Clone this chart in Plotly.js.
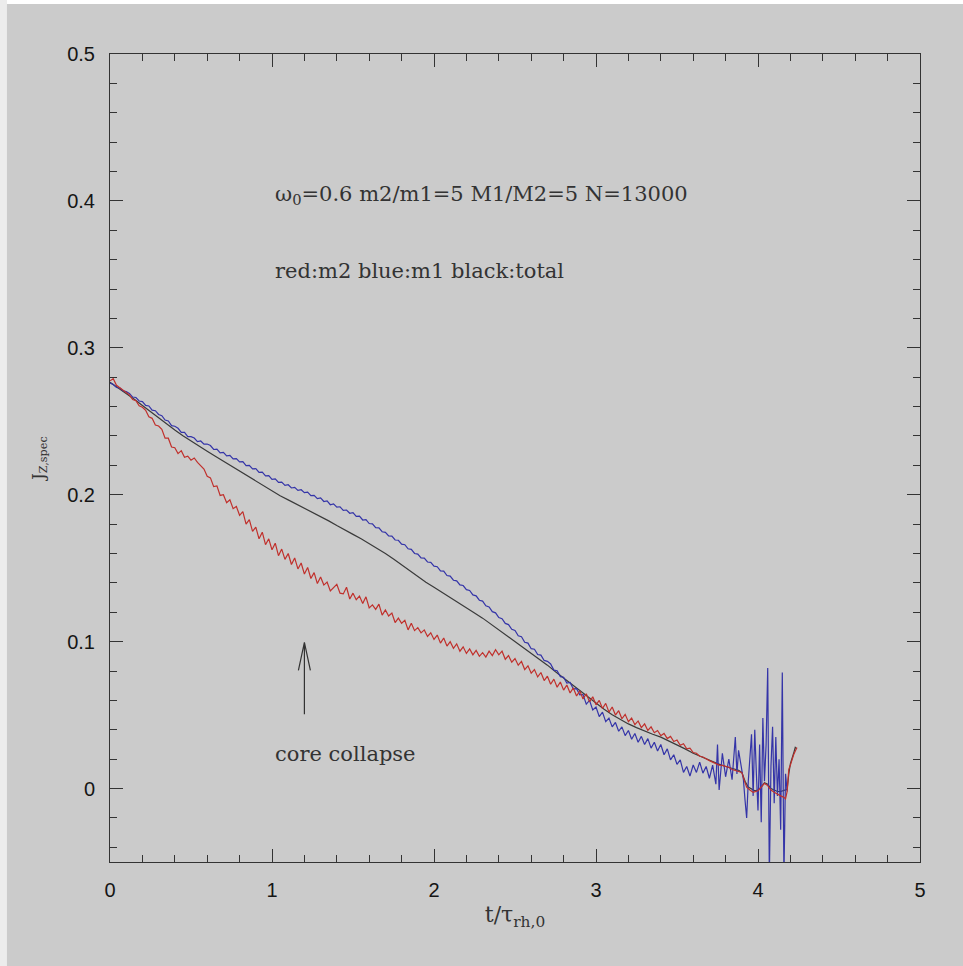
<!DOCTYPE html>
<html><head><meta charset="utf-8">
<script src="https://cdn.plot.ly/plotly-3.0.1.min.js"></script>
<style>html,body{margin:0;padding:0;background:#cbcbcb;} #chart{width:963px;height:966px;}</style>
</head><body><div id="chart"></div>
<script>
// ---- data ----
const tRed = [0,0.02,0.04,0.06,0.08,0.10,0.12,0.14,0.16,0.18,0.20,0.22,0.24,0.26,0.28,0.30,0.32,0.34,0.36,0.38,0.40,0.42,0.44,0.46,0.48,0.50,0.52,0.54,0.56,0.58,0.60,0.62,0.64,0.66,0.68,0.70,0.72,0.74,0.76,0.78,0.80,0.82,0.84,0.86,0.88,0.90,0.92,0.94,0.96,0.98,1.00,1.02,1.04,1.06,1.08,1.10,1.12,1.14,1.16,1.18,1.20,1.22,1.24,1.26,1.28,1.30,1.32,1.34,1.36,1.38,1.40,1.42,1.44,1.46,1.48,1.50,1.52,1.54,1.56,1.58,1.60,1.62,1.64,1.66,1.68,1.70,1.72,1.74,1.76,1.78,1.80,1.82,1.84,1.86,1.88,1.90,1.92,1.94,1.96,1.98,2.00,2.02,2.04,2.06,2.08,2.10,2.12,2.14,2.16,2.18,2.20,2.22,2.24,2.26,2.28,2.30,2.32,2.34,2.36,2.38,2.40,2.42,2.44,2.46,2.48,2.50,2.52,2.54,2.56,2.58,2.60,2.62,2.64,2.66,2.68,2.70,2.72,2.74,2.76,2.78,2.80,2.82,2.84,2.86,2.88,2.90,2.92,2.94,2.96,2.98,3.00,3.02,3.04,3.06,3.08,3.10,3.12,3.14,3.16,3.18,3.20,3.22,3.24,3.26,3.28,3.30,3.32,3.34,3.36,3.38,3.40,3.42,3.44,3.46,3.48,3.50,3.52,3.54,3.56,3.58,3.60,3.62,3.64,3.66,3.68,3.70,3.72,3.74,3.76,3.78,3.80,3.82,3.84,3.86,3.88,3.90,3.92,3.93,3.95,3.97,4.00,4.02,4.04,4.06,4.08,4.10,4.12,4.14,4.16,4.17,4.18,4.19,4.20,4.22,4.24];
const jRed = [0.2775,0.2790,0.2745,0.2730,0.2712,0.2700,0.2680,0.2648,0.2640,0.2605,0.2595,0.2575,0.2530,0.2520,0.2475,0.2468,0.2445,0.2385,0.2385,0.2325,0.2320,0.2280,0.2300,0.2255,0.2262,0.2235,0.2250,0.2220,0.2195,0.2175,0.2125,0.2115,0.2055,0.2060,0.1995,0.2000,0.1945,0.1965,0.1905,0.1920,0.1860,0.1885,0.1800,0.1830,0.1750,0.1780,0.1700,0.1745,0.1660,0.1700,0.1625,0.1670,0.1585,0.1630,0.1560,0.1600,0.1525,0.1570,0.1495,0.1535,0.1460,0.1505,0.1430,0.1470,0.1395,0.1440,0.1385,0.1405,0.1345,0.1370,0.1390,0.1330,0.1325,0.1370,0.1290,0.1330,0.1285,0.1310,0.1260,0.1305,0.1230,0.1250,0.1220,0.1255,0.1180,0.1215,0.1175,0.1195,0.1130,0.1160,0.1125,0.1145,0.1080,0.1125,0.1075,0.1095,0.1060,0.1080,0.1035,0.1060,0.1015,0.1045,0.0990,0.1025,0.0970,0.1000,0.0955,0.0985,0.0935,0.0965,0.0920,0.0950,0.0910,0.0940,0.0900,0.0925,0.0895,0.0935,0.0905,0.0945,0.0910,0.0935,0.0880,0.0905,0.0860,0.0885,0.0840,0.0865,0.0810,0.0835,0.0785,0.0810,0.0760,0.0790,0.0735,0.0765,0.0710,0.0745,0.0690,0.0725,0.0670,0.0705,0.0650,0.0685,0.0630,0.0665,0.0610,0.0645,0.0590,0.0625,0.0570,0.0600,0.0545,0.0580,0.0520,0.0555,0.0500,0.0530,0.0475,0.0505,0.0455,0.0480,0.0435,0.0460,0.0415,0.0440,0.0395,0.0420,0.0380,0.0395,0.0360,0.0375,0.0340,0.0355,0.0320,0.0330,0.0295,0.0305,0.0270,0.0275,0.0245,0.0240,0.0220,0.0215,0.0200,0.0190,0.0180,0.0170,0.0160,0.0158,0.0150,0.0145,0.0130,0.0125,0.0120,0.0110,0.0040,0.0010,-0.0010,-0.0025,-0.0015,0.0010,0.0035,0.0020,-0.0010,-0.0025,-0.0040,-0.0050,-0.0060,-0.0070,-0.0020,0.0130,0.0160,0.0230,0.0280];

const tBlue = [0,0.02,0.04,0.06,0.08,0.10,0.12,0.14,0.16,0.18,0.20,0.22,0.24,0.26,0.28,0.30,0.32,0.34,0.36,0.38,0.40,0.42,0.44,0.46,0.48,0.50,0.52,0.54,0.56,0.58,0.60,0.62,0.64,0.66,0.68,0.70,0.72,0.74,0.76,0.78,0.80,0.82,0.84,0.86,0.88,0.90,0.92,0.94,0.96,0.98,1.00,1.02,1.04,1.06,1.08,1.10,1.12,1.14,1.16,1.18,1.20,1.22,1.24,1.26,1.28,1.30,1.32,1.34,1.36,1.38,1.40,1.42,1.44,1.46,1.48,1.50,1.52,1.54,1.56,1.58,1.60,1.62,1.64,1.66,1.68,1.70,1.72,1.74,1.76,1.78,1.80,1.82,1.84,1.86,1.88,1.90,1.92,1.94,1.96,1.98,2.00,2.02,2.04,2.06,2.08,2.10,2.12,2.14,2.16,2.18,2.20,2.22,2.24,2.26,2.28,2.30,2.32,2.34,2.36,2.38,2.40,2.42,2.44,2.46,2.48,2.50,2.52,2.54,2.56,2.58,2.60,2.62,2.64,2.66,2.68,2.70,2.72,2.74,2.76,2.78,2.80,2.82,2.84,2.86,2.88,2.90,2.92,2.94,2.96,2.98,3.00,3.02,3.04,3.06,3.08,3.10,3.12,3.14,3.16,3.18,3.20,3.22,3.24,3.26,3.28,3.30,3.32,3.34,3.36,3.38,3.40,3.42,3.44,3.46,3.48,3.50,3.52,3.54,3.56,3.58,3.60,3.62,3.64,3.66,3.68,3.70,3.72,3.74,3.75,3.76,3.78,3.80,3.82,3.84,3.86,3.87,3.88,3.90,3.91,3.92,3.93,3.94,3.96,3.97,3.98,3.99,4.00,4.01,4.02,4.03,4.04,4.05,4.06,4.07,4.08,4.09,4.10,4.11,4.12,4.13,4.14,4.15,4.16,4.17,4.18];
const jBlue = [0.2760,0.2750,0.2730,0.2728,0.2708,0.2702,0.2690,0.2665,0.2662,0.2638,0.2634,0.2608,0.2604,0.2576,0.2572,0.2546,0.2538,0.2508,0.2502,0.2470,0.2466,0.2452,0.2425,0.2424,0.2396,0.2395,0.2386,0.2362,0.2366,0.2344,0.2345,0.2335,0.2308,0.2310,0.2285,0.2288,0.2264,0.2268,0.2244,0.2246,0.2224,0.2226,0.2198,0.2200,0.2176,0.2178,0.2152,0.2154,0.2128,0.2130,0.2105,0.2108,0.2084,0.2086,0.2064,0.2068,0.2046,0.2050,0.2030,0.2034,0.2014,0.2018,0.1994,0.1996,0.1974,0.1978,0.1954,0.1958,0.1932,0.1938,0.1915,0.1918,0.1894,0.1896,0.1874,0.1878,0.1852,0.1854,0.1828,0.1830,0.1804,0.1802,0.1776,0.1774,0.1748,0.1744,0.1720,0.1718,0.1692,0.1690,0.1664,0.1660,0.1632,0.1628,0.1600,0.1596,0.1570,0.1568,0.1542,0.1540,0.1514,0.1510,0.1482,0.1480,0.1450,0.1446,0.1418,0.1414,0.1386,0.1382,0.1354,0.1348,0.1318,0.1312,0.1282,0.1276,0.1244,0.1236,0.1204,0.1196,0.1164,0.1156,0.1124,0.1116,0.1084,0.1076,0.1040,0.1034,0.0996,0.0990,0.0952,0.0948,0.0912,0.0908,0.0872,0.0866,0.0848,0.0806,0.0802,0.0762,0.0758,0.0718,0.0722,0.0678,0.0680,0.0638,0.0640,0.0575,0.0600,0.0535,0.0555,0.0490,0.0520,0.0455,0.0480,0.0420,0.0450,0.0390,0.0420,0.0360,0.0395,0.0335,0.0375,0.0315,0.0355,0.0300,0.0340,0.0275,0.0315,0.0255,0.0300,0.0230,0.0270,0.0195,0.0230,0.0165,0.0195,0.0110,0.0150,0.0085,0.0160,0.0110,0.0180,0.0105,0.0150,0.0070,0.0160,0.0030,0.0300,-0.0010,0.0240,0.0080,0.0200,0.0060,0.0350,0.0100,0.0260,0.0120,0.0060,-0.0080,-0.0200,0.0050,0.0370,-0.0050,0.0400,0.0100,-0.0150,0.0300,-0.0230,0.0480,0.0050,0.0300,0.0820,-0.0600,0.0150,0.0420,-0.0100,0.0350,-0.0050,0.0200,-0.0280,0.0790,-0.0600,0.0100,-0.0020];

const tTotal = [0,0.05,0.10,0.15,0.20,0.25,0.30,0.35,0.40,0.45,0.50,0.55,0.60,0.65,0.70,0.75,0.80,0.85,0.90,0.95,1.00,1.05,1.10,1.15,1.20,1.25,1.30,1.35,1.40,1.45,1.50,1.55,1.60,1.65,1.70,1.75,1.80,1.85,1.90,1.95,2.00,2.05,2.10,2.15,2.20,2.25,2.30,2.35,2.40,2.45,2.50,2.55,2.60,2.65,2.70,2.75,2.80,2.85,2.90,2.95,3.00,3.05,3.10,3.15,3.20,3.25,3.30,3.35,3.40,3.45,3.50,3.55,3.60,3.65,3.70,3.75,3.80,3.85,3.88,3.90,3.92,3.94,3.96,3.98,4.00,4.02,4.04,4.06,4.08,4.10,4.12,4.14,4.16,4.18,4.19,4.20,4.22,4.23,4.24];
const jTotal = [0.2765,0.2728,0.2690,0.2650,0.2608,0.2565,0.2522,0.2480,0.2440,0.2402,0.2365,0.2330,0.2296,0.2262,0.2228,0.2195,0.2160,0.2126,0.2090,0.2056,0.2022,0.1993,0.1965,0.1937,0.1908,0.1880,0.1850,0.1822,0.1790,0.1762,0.1730,0.1700,0.1668,0.1636,0.1600,0.1562,0.1522,0.1482,0.1442,0.1405,0.1370,0.1336,0.1300,0.1266,0.1230,0.1195,0.1160,0.1120,0.1080,0.1040,0.1000,0.0962,0.0920,0.0880,0.0840,0.0795,0.0752,0.0710,0.0668,0.0625,0.0582,0.0540,0.0502,0.0470,0.0440,0.0415,0.0390,0.0370,0.0350,0.0325,0.0300,0.0270,0.0240,0.0215,0.0190,0.0170,0.0150,0.0135,0.0125,0.0110,0.0050,0.0010,-0.0005,-0.0015,-0.0010,0.0010,0.0040,0.0030,0.0000,-0.0010,-0.0020,-0.0020,-0.0015,-0.0005,0.0100,0.0170,0.0240,0.0280,0.0270];

const xTickVals = [0,1,2,3,4,5];
const xTickText = ['0','1','2','3','4','5'];
const yTickVals = [0,0.1,0.2,0.3,0.4,0.5];
const yTickText = ['0','0.1','0.2','0.3','0.4','0.5'];

const note1 = 'ω<sub>0</sub>=0.6 m2/m1=5 M1/M2=5 N=13000';
const note2 = 'red:m2 blue:m1 black:total';
const note3 = 'core collapse';
// arrow marking core collapse (data units)
const arrowT = 1.2, arrowTip = 0.0995, arrowTail = 0.0505, headDx = 0.037, headDy = 0.019;

// ---- chart ----
const serif = 'DejaVu Serif, Liberation Serif, serif';
const sans = 'Liberation Sans, Arial, Helvetica, sans-serif';
const axisCol = '#333333';

const traces = [
  {x: tTotal, y: jTotal, mode: 'lines', line: {color: '#3a3a3a', width: 1.2}, name: 'total'},
  {x: tBlue, y: jBlue, mode: 'lines', line: {color: '#3434a8', width: 1.2}, name: 'm1'},
  {x: tRed, y: jRed, mode: 'lines', line: {color: '#c0302c', width: 1.2}, name: 'm2'}
];

const common = {
  ticks: 'inside', ticklen: 13, tickwidth: 1, tickcolor: axisCol,
  mirror: 'allticks', showline: true, linecolor: axisCol, linewidth: 1,
  showgrid: false, zeroline: false,
  tickfont: {family: sans, size: 20, color: '#151515'}
};

const layout = {
  width: 963, height: 966,
  margin: {l: 110, r: 43, t: 54, b: 104},
  paper_bgcolor: '#cbcbcb', plot_bgcolor: '#cbcbcb',
  showlegend: false,
  xaxis: Object.assign({}, common, {
    range: [0, 5], tickmode: 'array', tickvals: xTickVals, ticktext: xTickText,
    minor: {dtick: 0.2, tick0: 0, ticks: 'inside', ticklen: 7, tickcolor: axisCol, tickwidth: 1, showgrid: false},
    ticklabelstandoff: 10,
    title: {text: 't/τ<sub>rh,0</sub>', font: {family: serif, size: 22, color: '#333'}, standoff: 6}
  }),
  yaxis: Object.assign({}, common, {
    range: [-0.05, 0.5], tickmode: 'array', tickvals: yTickVals, ticktext: yTickText,
    minor: {dtick: 0.02, tick0: 0, ticks: 'inside', ticklen: 7, tickcolor: axisCol, tickwidth: 1, showgrid: false},
    ticklabelstandoff: 10,
    title: {text: 'J<sub>Z,spec</sub>', font: {family: serif, size: 16, color: '#333'}, standoff: 18}
  }),
  annotations: [
    {x: 1.006, y: 0.404, xref: 'x', yref: 'y', text: note1, showarrow: false, xanchor: 'left', yanchor: 'middle', font: {family: serif, size: 21, color: '#333'}},
    {x: 1.006, y: 0.352, xref: 'x', yref: 'y', text: note2, showarrow: false, xanchor: 'left', yanchor: 'middle', font: {family: serif, size: 21, color: '#333'}},
    {x: 1.006, y: 0.0238, xref: 'x', yref: 'y', text: note3, showarrow: false, xanchor: 'left', yanchor: 'middle', font: {family: serif, size: 21, color: '#333'}}
  ],
  shapes: [
    {type: 'path', xref: 'x', yref: 'y',
     path: `M ${arrowT} ${arrowTail} L ${arrowT} ${arrowTip} M ${arrowT - headDx} ${arrowTip - headDy} L ${arrowT} ${arrowTip} L ${arrowT + headDx} ${arrowTip - headDy}`,
     line: {color: '#333', width: 1.2}},
    {type: 'rect', xref: 'paper', yref: 'paper', x0: -0.1358, x1: 1.054, y0: 1.0619, y1: 1.07, fillcolor: '#ffffff', line: {width: 0}},
    {type: 'rect', xref: 'paper', yref: 'paper', x0: -0.1358, x1: -0.1272, y0: -0.13, y1: 1.07, fillcolor: '#ececec', line: {width: 0}}
  ]
};

Plotly.newPlot('chart', traces, layout, {displayModeBar: false, staticPlot: true});
</script>
</body></html>
